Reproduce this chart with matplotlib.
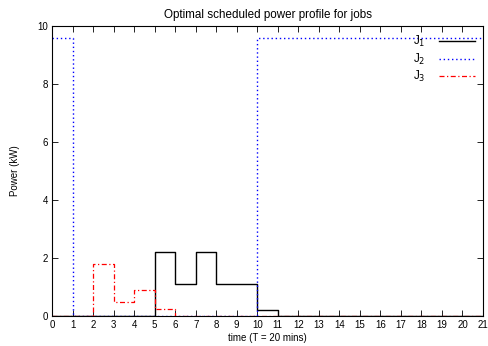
import matplotlib
matplotlib.use("Agg")
import matplotlib.pyplot as plt

plt.rcParams['font.family'] = ['Liberation Sans', 'DejaVu Sans']
plt.rcParams['font.size'] = 7

# time slots (T = 20 mins), power in kW per slot
t = list(range(0, 22))
j1 = [0, 0, 0, 0, 0, 2.2, 1.1, 2.2, 1.1, 1.1, 0.2, 0, 0, 0, 0, 0, 0, 0, 0, 0, 0, 0]
j2 = [9.6, 0, 0, 0, 0, 0, 0, 0, 0, 0, 9.6, 9.6, 9.6, 9.6, 9.6, 9.6, 9.6, 9.6, 9.6, 9.6, 9.6, 9.6]
j3 = [0, 0, 1.8, 0.5, 0.9, 0.25, 0, 0, 0, 0, 0, 0, 0, 0, 0, 0, 0, 0, 0, 0, 0, 0]

fig = plt.figure(figsize=(4.88, 3.46), dpi=100)
ax = fig.add_axes([0.1066, 0.0867, 0.8832, 0.8382])

ax.plot(t, j1, drawstyle='steps-post', color='black', lw=1.0, label='J$_1$')
ax.plot(t, j2, drawstyle='steps-post', color='blue', lw=1.0, linestyle=(0, (1, 2)), label='J$_2$')
ax.plot(t, j3, drawstyle='steps-post', color='red', lw=0.9, linestyle=(0, (4, 2, 1, 2)), label='J$_3$')

ax.set_xlim(0, 21)
ax.set_ylim(0, 10)
ax.set_xticks(range(0, 22))
ax.set_yticks(range(0, 11, 2))
ax.tick_params(direction='in', top=True, right=True, length=4, width=0.6, pad=3)
for s in ax.spines.values():
    s.set_linewidth(0.8)

ax.set_xlabel('time (T = 20 mins)', labelpad=2)
ax.set_ylabel('Power (kW)', labelpad=12)
ax.set_title('Optimal scheduled power profile for jobs', pad=6)

leg = ax.legend(loc='upper right', markerfirst=False, frameon=False, handlelength=3.0,
                fontsize=8.5, labelspacing=0.2, borderaxespad=0.3, handletextpad=1.2)

plt.savefig('out.png', dpi=100)
